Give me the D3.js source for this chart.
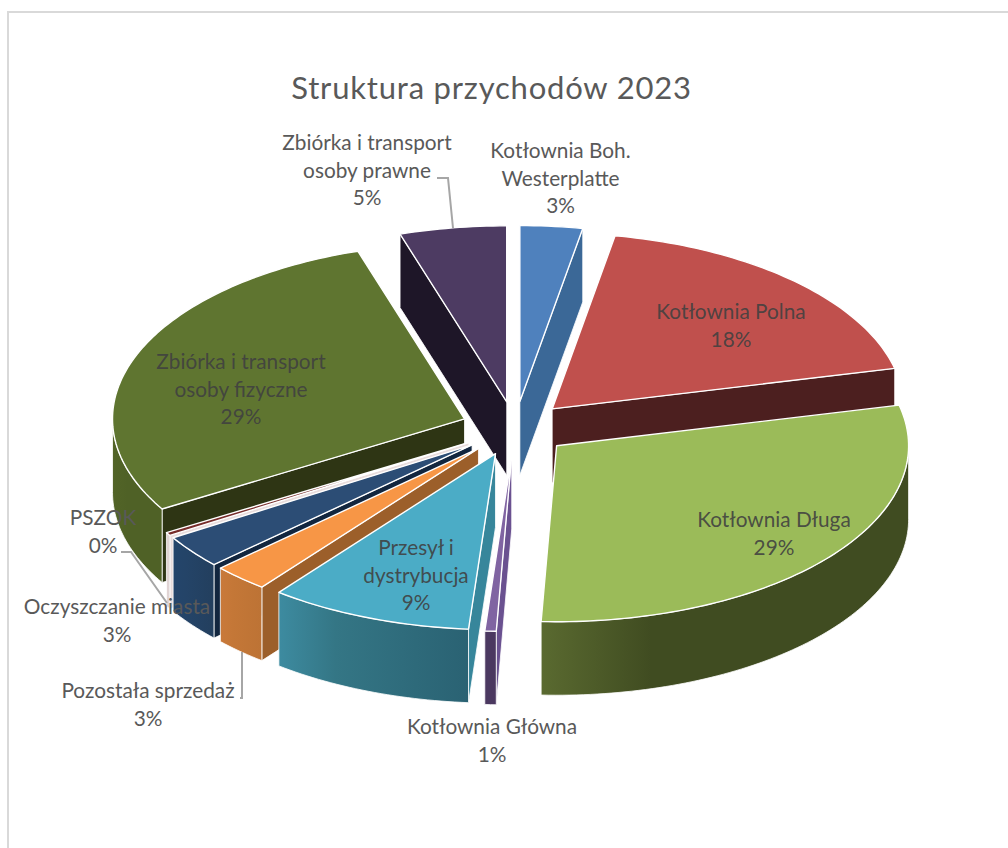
<!DOCTYPE html>
<html><head><meta charset="utf-8">
<script src="https://cdn.jsdelivr.net/npm/d3@7"></script>
<style>html,body{margin:0;background:#fff}svg{display:block}text{font-family:Lato,"Open Sans",sans-serif}</style>
</head><body><svg id="c" width="1008" height="848"></svg>
<script>
const chartTitle = "Struktura przychodów 2023";
const categories = ["Kotłownia Boh. Westerplatte","Kotłownia Polna","Kotłownia Długa","Kotłownia Główna","Przesył i dystrybucja","Pozostała sprzedaż","Oczyszczanie miasta","PSZOK","Zbiórka i transport osoby fizyczne","Zbiórka i transport osoby prawne"];
const values = [2.86,18.44,29.4,0.52,9.33,2.55,3.05,0.3,28.65,4.9];
const topColors = ["#4f81bd","#c0504d","#9bbb59","#8064a2","#4bacc6","#f79646","#2c4d75","#772c2a","#5f7530","#4d3b62"];
const radialColors = ["#3b6897","#4c1f1f","#404c21","#6a5190","#37869b","#9c5f2a","#12263f","#e8dcdc","#2e3514","#1e1628"];
const wallLeft = ["#3b6897","#4c1f1f","#5a6a30","#4b3860","#3d8ba0","#c9793a","#24456b","#e0d4d4","#526427","#1e1628"];
const wallMid  = ["#3b6897","#4c1f1f","#404c21","#4b3860","#347685","#c47737","#244468","#e0d4d4","#4f6126","#1e1628"];
const wallRight= ["#3b6897","#4c1f1f","#404c21","#4b3860","#2a6273","#bd7335","#233f5e","#e0d4d4","#4f6126","#1e1628"];
const labelLines = [["Kotłownia Boh.","Westerplatte"],["Kotłownia Polna"],["Kotłownia Długa"],["Kotłownia Główna"],["Przesył i","dystrybucja"],["Pozostała sprzedaż"],["Oczyszczanie miasta"],["PSZOK"],["Zbiórka i transport","osoby fizyczne"],["Zbiórka i transport","osoby prawne"]];

// layout (not data)
const cx=515, cy=428.5, rx=352, tilt=0.5, explode=54, depth=73.5;
const paintOrder=[9,0,1,8,7,6,5,2,4,3];
const labelPos=[[560.5,158],[731,319],[774,527],[492,734],[416,555],[148,698],[117,614],[103,525],[241,369],[367,150]];
const onSlice=new Set([1,2,4,8]);
const lineGap=27.7;
const leaders=[[[437,178],[448,178],[453,228]],[[121,552],[131,552],[167,603]],[[240,698],[242,698],[242,652]]];

const svg=d3.select("#c");
const defs=svg.append("defs");
svg.append("path").attr("d",d3.line()([[8,848],[8,12],[1008,12]])).attr("fill","none").attr("stroke","#d9d9d9").attr("stroke-width",2);

const arcs=d3.pie().sort(null).value(d=>d)(values);
const line=d3.line();
const pt=(o,a,r)=>[o[0]+r*Math.sin(a),o[1]-r*tilt*Math.cos(a)];
const down=p=>[p[0],p[1]+depth];
const samples=(a0,a1)=>{const n=Math.max(2,Math.ceil((a1-a0)/0.02));return d3.range(n+1).map(i=>a0+(a1-a0)*i/n);};
const PI=Math.PI;

const g=svg.append("g");
paintOrder.forEach(i=>{
  const d=arcs[i];
  const mid=(d.startAngle+d.endAngle)/2;
  const o=pt([cx,cy],mid,explode);
  const layer=g.append("g");
  const edge=(a)=>{const p=pt(o,a,rx);return [o,p,down(p),down(o)];};
  const face=(pts,fill,sw=0.8)=>layer.append("path").attr("d",line(pts)+"Z").attr("fill",fill).attr("stroke","#fff").attr("stroke-width",sw).attr("stroke-linejoin","round");
  if(Math.sin(d.startAngle)<0) face(edge(d.startAngle),radialColors[i]);
  if(Math.sin(d.endAngle)>0) face(edge(d.endAngle),radialColors[i]);
  const a0=Math.max(d.startAngle,PI/2), a1=Math.min(d.endAngle,1.5*PI);
  if(a1>a0){
    const id="w"+i;
    const gr=defs.append("linearGradient").attr("id",id);
    gr.append("stop").attr("offset",0).attr("stop-color",wallLeft[i]);
    gr.append("stop").attr("offset",0.3).attr("stop-color",wallMid[i]);
    gr.append("stop").attr("offset",1).attr("stop-color",wallRight[i]);
    const tp=samples(a0,a1).map(a=>pt(o,a,rx));
    face(tp.concat(tp.map(down).reverse()),`url(#${id})`);
  }
  const rim=samples(d.startAngle,d.endAngle).map(a=>pt(o,a,rx));
  face([o].concat(rim),topColors[i],1.4);
});

svg.append("g").selectAll("path").data(leaders).join("path").attr("d",d=>line(d)).attr("fill","none").attr("stroke","#a6a6a6").attr("stroke-width",2);

const fmt=d3.format(".0f");
const labels=svg.append("g").attr("text-anchor","middle").attr("font-size",20.8);
categories.forEach((c,i)=>{
  const t=labels.append("text").attr("fill",onSlice.has(i)?"#404040":"#595959").attr("fill-opacity",onSlice.has(i)?0.9:1);
  labelLines[i].concat([fmt(values[i])+"%"]).forEach((s,k)=>{
    t.append("tspan").attr("x",labelPos[i][0]).attr("y",labelPos[i][1]+k*lineGap).text(s);
  });
});
svg.append("text").attr("x",491.5).attr("y",99).attr("text-anchor","middle").attr("font-size",31).attr("letter-spacing",0.8).attr("fill","#595959").text(chartTitle);
</script></body></html>
